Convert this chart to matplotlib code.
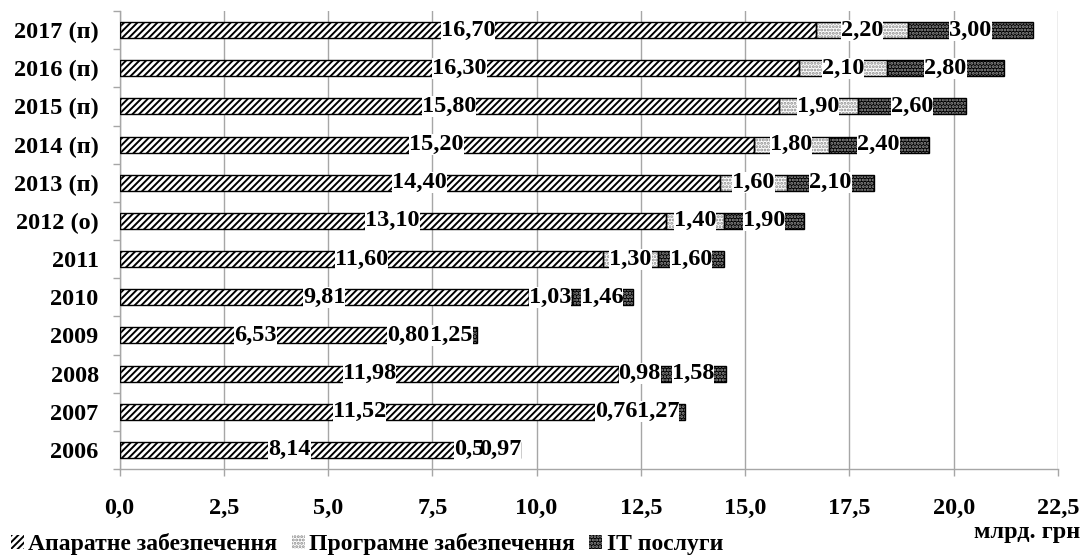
import matplotlib
matplotlib.use("Agg")
import matplotlib.pyplot as plt
from matplotlib.patches import Patch
import numpy as np

categories = ["2006", "2007", "2008", "2009", "2010", "2011",
              "2012 (о)", "2013 (п)", "2014 (п)", "2015 (п)", "2016 (п)", "2017 (п)"]
hardware = [8.14, 11.52, 11.98, 6.53, 9.81, 11.60, 13.10, 14.40, 15.20, 15.80, 16.30, 16.70]
software = [0.5, 0.76, 0.98, 0.80, 1.03, 1.30, 1.40, 1.60, 1.80, 1.90, 2.10, 2.20]
services = [0.97, 1.27, 1.58, 1.25, 1.46, 1.60, 1.90, 2.10, 2.40, 2.60, 2.80, 3.00]
series_names = ["Апаратне забезпечення", "Програмне забезпечення", "ІТ послуги"]
x_ticks = [0, 2.5, 5, 7.5, 10, 12.5, 15, 17.5, 20, 22.5]
label_override = {(1, 0): "0,5"}

plt.rcParams['font.family'] = ['Liberation Serif', 'DejaVu Serif']
plt.rcParams['font.weight'] = 'bold'
plt.rcParams['font.size'] = 17.5
plt.rcParams['hatch.linewidth'] = 1.4

fig = plt.figure(figsize=(10.82, 5.56), dpi=100)
ax = fig.add_axes([119.5/1082, 87/556, (1058-119.5)/1082, (545-87)/556])

y = np.arange(len(categories))
h = 0.42
gray = '#a6a6a6'

styles = [
    dict(facecolor='white', edgecolor='black', hatch='/////', linewidth=0),
    dict(facecolor='white', edgecolor='#8a8a8a', hatch='.....', linewidth=0),
    dict(facecolor='black', edgecolor='#9a9a9a', hatch='.....', linewidth=0),
]

data = [hardware, software, services]
left = np.zeros(len(categories))
labels = []
for si, vals in enumerate(data):
    vals = np.array(vals)
    ax.barh(y, vals, height=h, left=left, zorder=2, **styles[si])
    ax.barh(y, vals, height=h, left=left, facecolor='none', edgecolor='black',
            linewidth=1.0, zorder=3)
    for i, v in enumerate(vals):
        txt = label_override.get((si, i), f"{v:.2f}".replace('.', ','))
        labels.append((left[i] + v / 2, y[i], txt))
    left = left + vals

# white backgrounds first, then all label texts on top
for xx, yy, txt in labels:
    ax.text(xx, yy, txt, ha='center', va='center', color='white',
            fontsize=17.5, fontweight='bold', zorder=4,
            bbox=dict(boxstyle='square,pad=0.0', facecolor='white', edgecolor='none'))
for xx, yy, txt in labels:
    ax.text(xx, yy, txt, ha='center', va='center', color='black',
            fontsize=17.5, fontweight='bold', zorder=5)

ax.set_xlim(0, 22.5)
ax.set_ylim(-0.5, len(categories) - 0.5)
ax.set_xticks(x_ticks)
ax.set_xticklabels([f"{t:.1f}".replace('.', ',') for t in x_ticks])
ax.set_yticks(y)
ax.set_yticklabels(categories)
ax.set_yticks(np.arange(len(categories) + 1) - 0.5, minor=True)
ax.tick_params(axis='y', which='major', length=0, pad=15)
ax.tick_params(axis='y', which='minor', length=5, color=gray, width=1)
ax.tick_params(axis='x', which='major', length=5, color=gray, width=1, pad=16)
ax.xaxis.grid(True, color=gray, linewidth=1, zorder=0)
ax.set_axisbelow(True)
for s in ['top', 'right']:
    ax.spines[s].set_visible(False)
for s in ['left', 'bottom']:
    ax.spines[s].set_color(gray)
    ax.spines[s].set_linewidth(1)

fig.text(1080/1082, 1 - 538/556, "млрд. грн", ha='right', va='baseline', fontsize=17.5, fontweight='bold')

handles = [Patch(facecolor=st['facecolor'], edgecolor=st['edgecolor'], hatch=st['hatch'], linewidth=0)
           for st in styles]
leg = fig.legend(handles, series_names, loc='lower left', bbox_to_anchor=(0.001, -0.016),
                 ncol=3, frameon=False, handlelength=0.55, handleheight=0.55,
                 handletextpad=0.2, columnspacing=0.6, borderaxespad=0.0,
                 prop=dict(size=17, weight='bold'))

fig.savefig("out.png", dpi=100)
